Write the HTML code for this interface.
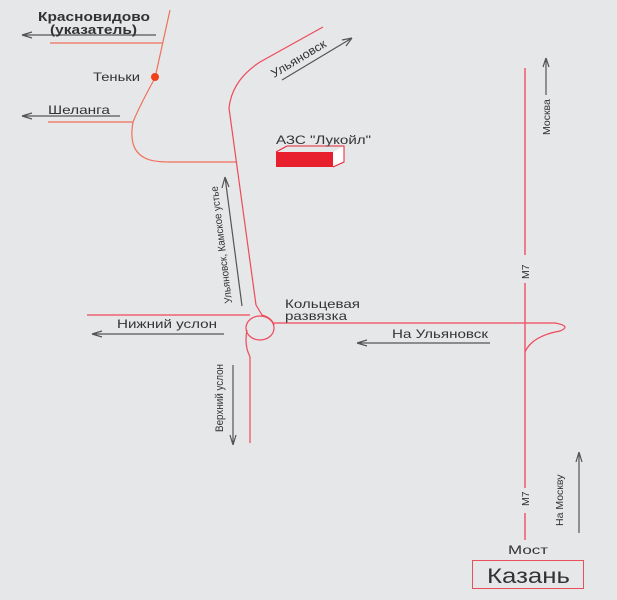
<!DOCTYPE html>
<html><head><meta charset="utf-8"><style>
html,body{margin:0;padding:0;background:#e6e7e9;}
svg{display:block;font-family:"Liberation Sans",sans-serif;}
</style></head><body>
<svg width="617" height="600" viewBox="0 0 617 600" xmlns="http://www.w3.org/2000/svg">
<rect width="617" height="600" fill="#e6e7e9"/>
<g fill="none" stroke-width="1.2">
<path d="M170,10 L155,78 Q140,105 133,122 Q128,150 145,158 Q152,162 170,162 L236,162" stroke="#f0705a"/>
<line x1="50" y1="43" x2="162" y2="43" stroke="#f0705a"/>
<line x1="48" y1="122" x2="133" y2="122" stroke="#f0705a"/>
<path d="M323,27 L260,62 Q232,80 229,108 L256,305" stroke="#ee4a5a"/>
<path d="M87,315 L250,315" stroke="#ee4a5a"/>
<ellipse cx="260" cy="328" rx="14" ry="12" stroke="#ee4a5a"/>
<path d="M256,305 L262,315 Q272,318 274,325" stroke="#ee4a5a"/>
<path d="M274,323 L555,323 Q572,326 560,331 Q532,336 525,352" stroke="#ee4a5a"/>
<path d="M247,330 Q244,345 250,357 L250,443" stroke="#ee4a5a"/>
<path d="M525,68 L525,255 M525,283 L525,488 M525,513 L525,540" stroke="#ee5a6e" stroke-width="1.5"/>
</g>
<circle cx="155" cy="77" r="4" fill="#f0401a"/>
<g stroke="#555" stroke-width="1.2" fill="none">
<path d="M22,35 L156,35 M22,35 L32,32 M22,35 L32,38"/>
<path d="M22,116 L120,116 M22,116 L32,113 M22,116 L32,119"/>
<path d="M282,80 L352,38 M352,38 L342,40 M352,38 L346,46"/>
<path d="M242,306 L225,177 M225,177 L222,188 M225,177 L229,187"/>
<path d="M92,334 L224,334 M92,334 L102,331 M92,334 L102,337"/>
<path d="M357,343 L490,343 M357,343 L367,340 M357,343 L367,346"/>
<path d="M233,365 L233,445 M233,445 L230,435 M233,445 L236,435"/>
<path d="M546,58 L546,95 M546,58 L543,67 M546,58 L549,67"/>
<path d="M579,452 L579,533 M579,452 L576,462 M579,452 L582,462"/>
</g>
<polygon points="276,152 333,152 344,146 344,162 333,167 276,167" fill="#fff"/>
<path d="M276,152 L287,146 L344,146 L344,162 L333,167" fill="none" stroke="#e8202e" stroke-width="1"/>
<rect x="276" y="152" width="57" height="15" fill="#e8202e"/>
<g fill="#333" font-size="12">
<text x="38" y="21" font-weight="bold" font-size="13" textLength="112" lengthAdjust="spacingAndGlyphs">Красновидово</text>
<text x="50" y="34" font-weight="bold" font-size="13" textLength="87" lengthAdjust="spacingAndGlyphs">(указатель)</text>
<text x="93" y="81" textLength="47" lengthAdjust="spacingAndGlyphs">Теньки</text>
<text x="48" y="114" textLength="62" lengthAdjust="spacingAndGlyphs">Шеланга</text>
<text x="276" y="144" textLength="95" lengthAdjust="spacingAndGlyphs">АЗС "Лукойл"</text>
<text transform="translate(274,78) rotate(-31)" textLength="62" lengthAdjust="spacingAndGlyphs">Ульяновск</text>
<text transform="translate(232,303) rotate(-97)" font-size="10.5" textLength="118" lengthAdjust="spacingAndGlyphs">Ульяновск, Камское устье</text>
<text x="285" y="308" textLength="75" lengthAdjust="spacingAndGlyphs">Кольцевая</text>
<text x="285" y="320" textLength="62" lengthAdjust="spacingAndGlyphs">развязка</text>
<text x="117" y="328" textLength="100" lengthAdjust="spacingAndGlyphs">Нижний услон</text>
<text x="392" y="338" textLength="96" lengthAdjust="spacingAndGlyphs">На Ульяновск</text>
<text transform="translate(223,432) rotate(-90)" font-size="11" textLength="68" lengthAdjust="spacingAndGlyphs">Верхний услон</text>
<text transform="translate(550,135) rotate(-90)" font-size="10.5">Москва</text>
<text transform="translate(529,279) rotate(-90)" font-size="10.5">М7</text>
<text transform="translate(529,506) rotate(-90)" font-size="10.5">М7</text>
<text transform="translate(563,526) rotate(-90)" font-size="10.5">На Москву</text>
<text x="508" y="554" textLength="40" lengthAdjust="spacingAndGlyphs">Мост</text>
</g>
<rect x="472.5" y="560.5" width="111" height="28" fill="none" stroke="#e8505e" stroke-width="1"/>
<text x="487" y="583" font-size="21" fill="#333" textLength="83" lengthAdjust="spacingAndGlyphs">Казань</text>
</svg>
</body></html>
